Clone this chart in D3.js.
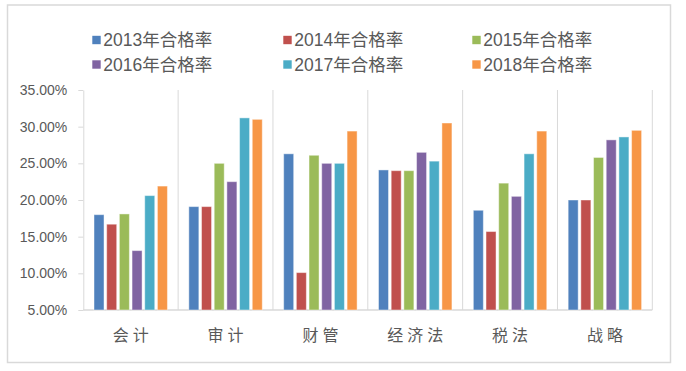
<!DOCTYPE html>
<html>
<head>
<meta charset="utf-8">
<script src="https://cdn.jsdelivr.net/npm/d3@7"></script>
<style>
  body { margin: 0; background: #fff; }
  svg { display: block; }
</style>
</head>
<body>
<svg width="686" height="371"></svg>
<script>
// subjects on the x axis
var subjects = ['会计', '审计', '财管', '经济法', '税法', '战略'];
var years = ['2013年合格率', '2014年合格率', '2015年合格率', '2016年合格率', '2017年合格率', '2018年合格率'];

// pass rates per year, in subject order
var rate2013 = [0.180, 0.191, 0.263, 0.241, 0.186, 0.200];
var rate2014 = [0.167, 0.191, 0.101, 0.240, 0.157, 0.200];
var rate2015 = [0.181, 0.250, 0.261, 0.240, 0.223, 0.258];
var rate2016 = [0.131, 0.225, 0.250, 0.265, 0.205, 0.282];
var rate2017 = [0.206, 0.312, 0.250, 0.253, 0.263, 0.286];
var rate2018 = [0.219, 0.310, 0.294, 0.305, 0.294, 0.295];

var yTicks = [0.05, 0.10, 0.15, 0.20, 0.25, 0.30, 0.35];

var colors = ['#4f81bd', '#c0504d', '#9bbb59', '#8064a2', '#4bacc6', '#f79646'];
var allRates = [rate2013, rate2014, rate2015, rate2016, rate2017, rate2018];

var svg = d3.select('svg');
var fontLatin = '"Liberation Sans", Arial, "Noto Sans CJK SC", sans-serif';
var textColor = '#595959';
var gridColor = '#d9d9d9';

// outer chart border
svg.append('rect')
    .attr('x', 7.5)
    .attr('y', 5)
    .attr('width', 663)
    .attr('height', 357.5)
    .attr('fill', '#fff')
    .attr('stroke', gridColor)
    .attr('stroke-width', 1.5);

var plotLeft = 83.3, plotRight = 652.3, plotTop = 90, plotBottom = 310;

var x0 = d3.scaleBand()
    .domain(subjects)
    .range([plotLeft, plotRight]);

var x1 = d3.scaleBand()
    .domain(years)
    .range([10.7, x0.bandwidth() - 10.7])
    .paddingInner(0.21);

var y = d3.scaleLinear()
    .domain([0.05, 0.35])
    .range([plotBottom, plotTop]);

// category separators (incl. the right edge)
var bounds = subjects.map(function(s){ return x0(s) + x0.bandwidth(); });
svg.append('g')
    .selectAll('line')
    .data(bounds)
    .enter()
    .append('line')
    .attr('x1', function(d){ return d; })
    .attr('x2', function(d){ return d; })
    .attr('y1', plotTop)
    .attr('y2', plotBottom)
    .attr('stroke', gridColor)
    .attr('stroke-width', 1);

// y axis
var yAxis = svg.append('g')
    .attr('transform', 'translate(' + plotLeft + ',0)')
    .call(d3.axisLeft(y)
        .tickValues(yTicks)
        .tickFormat(d3.format('.2%'))
        .tickSize(5)
        .tickSizeOuter(0)
        .tickPadding(11));
yAxis.select('.domain').attr('stroke', gridColor);
yAxis.selectAll('.tick line').attr('stroke', gridColor);
yAxis.selectAll('.tick text')
    .attr('fill', textColor)
    .style('font-family', fontLatin)
    .style('font-size', '14px');

// bottom axis line
svg.append('line')
    .attr('x1', plotLeft)
    .attr('x2', plotRight)
    .attr('y1', plotBottom)
    .attr('y2', plotBottom)
    .attr('stroke', gridColor)
    .attr('stroke-width', 1.5);

// bars
var groups = svg.append('g')
    .selectAll('g')
    .data(subjects)
    .enter()
    .append('g')
    .attr('transform', function(d){ return 'translate(' + x0(d) + ',0)'; });

groups.selectAll('rect')
    .data(function(d, i){
        return years.map(function(yr, j){
            return {year: yr, value: allRates[j][i], color: colors[j]};
        });
    })
    .enter()
    .append('rect')
    .attr('x', function(d){ return x1(d.year); })
    .attr('y', function(d){ return y(d.value); })
    .attr('width', x1.bandwidth())
    .attr('height', function(d){ return plotBottom - y(d.value); })
    .attr('fill', function(d){ return d.color; })
    .attr('stroke', '#fff')
    .attr('stroke-opacity', 0.45)
    .attr('stroke-width', 1);

// x labels
svg.append('g')
    .selectAll('text')
    .data(subjects)
    .enter()
    .append('text')
    .attr('x', function(d){ return x0(d) + x0.bandwidth() / 2 + 2; })
    .attr('y', 335)
    .attr('dy', '0.35em')
    .attr('text-anchor', 'middle')
    .attr('fill', textColor)
    .style('font-family', '"Noto Sans CJK SC", sans-serif')
    .style('font-size', '16px')
    .style('letter-spacing', '4px')
    .text(function(d){ return d; });

// legend, 3 columns x 2 rows
var legendX = [92.3, 283.3, 472.3];
var legendY = [40, 64.5];
var legend = svg.append('g')
    .selectAll('g')
    .data(years)
    .enter()
    .append('g')
    .attr('transform', function(d, i){
        return 'translate(' + legendX[i % 3] + ',' + legendY[Math.floor(i / 3)] + ')';
    });

legend.append('rect')
    .attr('x', 0)
    .attr('y', -4.2)
    .attr('width', 8.4)
    .attr('height', 8.4)
    .attr('fill', function(d, i){ return colors[i]; });

legend.append('text')
    .attr('x', 11)
    .attr('y', 0)
    .attr('dy', '0.36em')
    .attr('fill', textColor)
    .style('font-family', fontLatin)
    .style('font-size', '17.5px')
    .text(function(d){ return d; });
</script>
</body>
</html>
